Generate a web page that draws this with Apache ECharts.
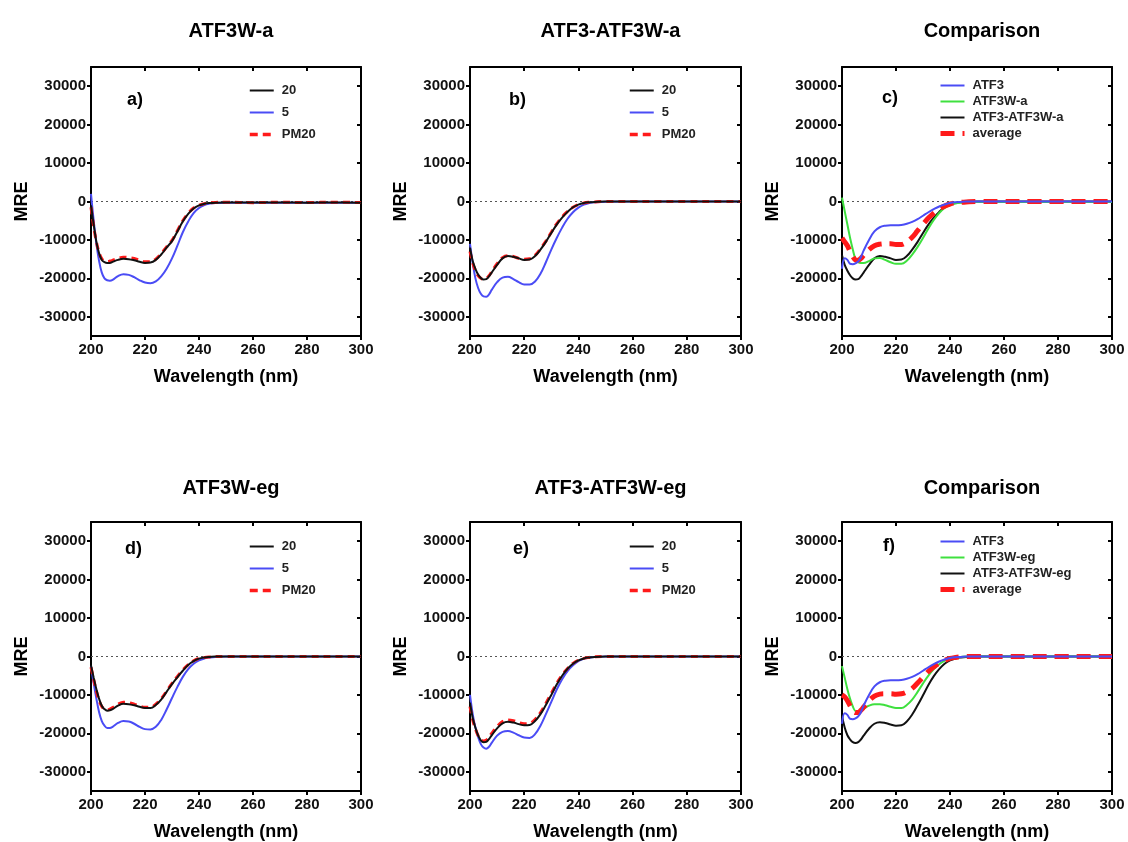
<!DOCTYPE html>
<html>
<head>
<meta charset="utf-8">
<title>CD spectra</title>
<script src="https://cdn.jsdelivr.net/npm/echarts@6/dist/echarts.min.js"></script>
<style>
  html, body { margin: 0; padding: 0; background: #fff; }
  #chart { width: 1128px; height: 842px; }
</style>
</head>
<body>
<div id="chart"></div>
<script>
// wavelength grid (nm) shared by every curve
const wavelength = [200, 201, 202, 203, 204, 205, 206, 207, 208,
  210, 212, 214, 216, 218, 220, 222, 224, 226, 228, 230, 232, 234, 236, 238, 240, 242, 244, 246,
  250, 260, 270, 280, 290, 300];

const xTicks = [200, 220, 240, 260, 280, 300];
const yTicks = [-30000, -20000, -10000, 0, 10000, 20000, 30000];

// a) ATF3W-a
const a20 = [-1000, -6000, -10500, -13500, -15200, -15800, -16000, -16000, -15700,
  -15200, -14900, -15000, -15300, -15700, -16000, -15900, -15200, -13800, -12000, -10300, -7800, -5200, -3200, -1800, -1000, -600, -400, -300,
  -250, -250, -250, -300, -250, -300];
const a5 = [2000, -5000, -11000, -15500, -18500, -20000, -20500, -20600, -20400,
  -19400, -18900, -19100, -19700, -20500, -21100, -21300, -20800, -19500, -17500, -14800, -11500, -8000, -5200, -3000, -1700, -900, -550, -400,
  -300, -300, -300, -350, -300, -350];
const aPM20 = [-1500, -6500, -10500, -13300, -14900, -15500, -15600, -15500, -15300,
  -14800, -14500, -14600, -14800, -15300, -15700, -15700, -15000, -13600, -11800, -10100, -7600, -5000, -3100, -1700, -950, -550, -350, -250,
  -200, -300, -200, -250, -200, -250];

// b) ATF3-ATF3W-a
const b20 = [-12000, -15500, -17500, -19000, -19900, -20300, -20200, -19500, -18500,
  -16500, -14800, -14200, -14400, -14800, -15200, -15100, -14200, -12500, -10500, -8200, -6000, -4200, -2700, -1500, -800, -400, -200, -100,
  0, 0, 0, 0, 0, 0];
const b5 = [-11000, -16000, -20000, -22500, -24000, -24700, -24800, -24200, -23000,
  -21000, -19800, -19600, -20200, -21000, -21600, -21600, -20800, -18800, -15800, -12500, -9500, -6800, -4500, -2800, -1600, -800, -400, -200,
  -50, 0, 0, 0, 0, 0];
const bPM20 = [-13000, -16000, -18000, -19300, -20000, -20200, -20000, -19300, -18300,
  -16200, -14600, -14100, -14300, -14800, -15000, -14900, -14000, -12300, -10300, -8000, -5800, -4000, -2600, -1500, -800, -400, -200, -100,
  0, 0, 0, 0, 0, 0];

// c) comparison, -a variant
const atf3 = [-17500, -14800, -15200, -16200, -16300, -16100, -15600, -14500, -12800,
  -10000, -7800, -6700, -6300, -6200, -6200, -6100, -5800, -5300, -4600, -3700, -2800, -2000, -1300, -800, -400, -200, -100, 0,
  0, 0, 0, 0, 0, 0];
const cAtf3wA = [1000, -2500, -6000, -9500, -12500, -15000, -15800, -16000, -16000,
  -15500, -14800, -14700, -15200, -15800, -16200, -16200, -15400, -13800, -11800, -9500, -7000, -4800, -3000, -1700, -900, -500, -300, -200,
  -150, -150, -150, -150, -150, -150];
const cPairA = [-14000, -16500, -18000, -19200, -20000, -20300, -20200, -19500, -18500,
  -16500, -14800, -14200, -14400, -14800, -15200, -15100, -14200, -12500, -10500, -8200, -6000, -4200, -2700, -1500, -800, -400, -200, -100,
  0, 0, 0, 0, 0, 0];
const cAverage = [-9500, -10500, -11500, -13000, -14300, -15200, -15300, -14800, -14000,
  -12500, -11500, -11100, -11000, -11000, -11200, -11200, -10500, -9300, -7600, -5900, -4300, -3000, -1900, -1200, -650, -350, -200, -100,
  0, 0, 0, 0, 0, 0];

// d) ATF3W-eg
const d20 = [-2300, -5500, -8500, -11000, -12800, -13700, -14100, -14000, -13700,
  -12800, -12300, -12400, -12700, -13100, -13400, -13400, -12600, -11200, -9200, -7200, -5400, -3700, -2200, -1200, -550, -250, -100, 0,
  0, 0, 0, 0, 0, 0];
const d5 = [-2500, -7000, -11000, -14500, -16800, -18000, -18600, -18600, -18300,
  -17300, -16800, -16900, -17500, -18300, -18900, -19000, -18300, -16500, -13800, -10800, -7900, -5300, -3300, -1900, -1000, -500, -250, -100,
  0, 0, 0, 0, 0, 0];
const dPM20 = [-2800, -6000, -9000, -11500, -13000, -13700, -13900, -13700, -13300,
  -12400, -11900, -12000, -12400, -12900, -13200, -13200, -12400, -11000, -9000, -7000, -5200, -3500, -2100, -1100, -500, -250, -100, 0,
  0, 0, 0, 0, 0, 0];

// e) ATF3-ATF3W-eg
const e20 = [-12000, -16000, -18500, -20500, -21800, -22300, -22200, -21500, -20500,
  -18700, -17400, -17000, -17200, -17600, -17900, -17800, -16800, -15000, -12600, -10000, -7300, -5000, -3200, -1900, -1000, -500, -250, -100,
  0, 0, 0, 0, 0, 0];
const e5 = [-10000, -15000, -18500, -21000, -22800, -23700, -24000, -23500, -22500,
  -20600, -19600, -19400, -19800, -20500, -21100, -21200, -20200, -18000, -15000, -11800, -8600, -5900, -3800, -2300, -1200, -600, -300, -150,
  0, 0, 0, 0, 0, 0];
const ePM20 = [-13000, -16500, -18800, -20600, -21600, -22000, -21800, -21000, -20000,
  -18200, -16900, -16500, -16700, -17200, -17500, -17400, -16400, -14600, -12200, -9600, -7000, -4800, -3100, -1800, -950, -480, -240, -100,
  0, 0, 0, 0, 0, 0];

// f) comparison, -eg variant
const fAtf3wEg = [-2500, -5500, -8500, -11000, -13000, -14200, -14300, -14000, -13600,
  -12800, -12400, -12400, -12700, -13100, -13400, -13400, -12600, -11200, -9200, -7000, -5000, -3300, -2000, -1100, -500, -250, -100, 0,
  0, 0, 0, 0, 0, 0];
const fPairEg = [-15500, -18500, -20500, -21600, -22300, -22500, -22300, -21600, -20600,
  -18800, -17500, -17100, -17300, -17700, -18000, -17900, -16900, -15100, -12700, -10100, -7400, -5100, -3300, -1900, -1000, -500, -250, -100,
  0, 0, 0, 0, 0, 0];
const fAverage = [-10000, -10500, -11500, -12800, -14000, -14600, -14600, -14000, -13200,
  -11500, -10300, -9800, -9700, -9700, -9800, -9700, -9200, -8300, -6900, -5400, -3900, -2700, -1700, -1000, -500, -250, -100, 0,
  0, 0, 0, 0, 0, 0];

const FONT = "'Liberation Sans', Arial, sans-serif";
const BLACK = "#111111";
const BLUE = "#4a4cf5";
const GREEN = "#3fe03f";
const RED = "#ff1a1a";

const panels = [
  { title: "ATF3W-a", tag: "a)", grid: { left: 91, top: 67, width: 270, height: 269 }, tagPos: [122, 86], legend: { left: 243, top: 79, gap: 9 } },
  { title: "ATF3-ATF3W-a", tag: "b)", grid: { left: 470, top: 67, width: 271, height: 269 }, tagPos: [504, 86], legend: { left: 623, top: 79, gap: 9 } },
  { title: "Comparison", tag: "c)", grid: { left: 842, top: 67, width: 270, height: 269 }, tagPos: [877, 84], legend: { left: 933, top: 74, gap: 3 } },
  { title: "ATF3W-eg", tag: "d)", grid: { left: 91, top: 522, width: 270, height: 270 }, tagPos: [120, 535], legend: { left: 243, top: 535, gap: 9 } },
  { title: "ATF3-ATF3W-eg", tag: "e)", grid: { left: 470, top: 522, width: 271, height: 270 }, tagPos: [508, 535], legend: { left: 623, top: 535, gap: 9 } },
  { title: "Comparison", tag: "f)", grid: { left: 842, top: 522, width: 270, height: 270 }, tagPos: [878, 532], legend: { left: 933, top: 530, gap: 3 } }
];

// curves drawn in each panel, in draw order; legendOrder gives the key order
const panelSeries = [
  { lines: [["5", a5, "blue"], ["PM20", aPM20, "dash"], ["20", a20, "black"]], legendOrder: ["20", "5", "PM20"] },
  { lines: [["5", b5, "blue"], ["PM20", bPM20, "dash"], ["20", b20, "black"]], legendOrder: ["20", "5", "PM20"] },
  { lines: [["ATF3-ATF3W-a", cPairA, "black"], ["ATF3W-a", cAtf3wA, "green"], ["average", cAverage, "avg"], ["ATF3", atf3, "blue"]],
    legendOrder: ["ATF3", "ATF3W-a", "ATF3-ATF3W-a", "average"] },
  { lines: [["5", d5, "blue"], ["PM20", dPM20, "dash"], ["20", d20, "black"]], legendOrder: ["20", "5", "PM20"] },
  { lines: [["5", e5, "blue"], ["PM20", ePM20, "dash"], ["20", e20, "black"]], legendOrder: ["20", "5", "PM20"] },
  { lines: [["ATF3-ATF3W-eg", fPairEg, "black"], ["ATF3W-eg", fAtf3wEg, "green"], ["average", fAverage, "avg"], ["ATF3", atf3, "blue"]],
    legendOrder: ["ATF3", "ATF3W-eg", "ATF3-ATF3W-eg", "average"] }
];

function lineStyleFor(kind) {
  if (kind === "black") return { color: BLACK, width: 2 };
  if (kind === "blue") return { color: BLUE, width: 2 };
  if (kind === "green") return { color: GREEN, width: 2 };
  if (kind === "dash") return { color: RED, width: 3, type: [7, 5] };
  return { color: RED, width: 5, type: [14, 8] };
}

// legend keys copy the look of their curve
function legendStyleFor(kind) {
  if (kind === "dash") return { color: RED, width: 3.5, type: [8, 5] };
  if (kind === "avg") return { color: RED, width: 5, type: [14, 8] };
  return lineStyleFor(kind);
}

function toPoints(values) {
  return wavelength.map((w, i) => [w, values[i]]);
}

function buildOption() {
  const option = {
    backgroundColor: "#ffffff",
    animation: false,
    textStyle: { fontFamily: FONT },
    title: [],
    grid: [],
    xAxis: [],
    yAxis: [],
    legend: [],
    series: []
  };

  panels.forEach((panel, idx) => {
    const g = panel.grid;
    const isTop = idx < 3;
    option.grid.push({ left: g.left, top: g.top, width: g.width, height: g.height, containLabel: false });

    option.title.push({
      text: panel.title,
      left: g.left + g.width / 2,
      top: isTop ? 16 : 473,
      textAlign: "center",
      textStyle: { fontFamily: FONT, fontSize: 20, fontWeight: "bold", color: "#000" }
    });
    option.title.push({
      text: panel.tag,
      left: panel.tagPos[0],
      top: panel.tagPos[1],
      textStyle: { fontFamily: FONT, fontSize: 18, fontWeight: "bold", color: "#000" }
    });

    const xBase = { gridIndex: idx, type: "value", min: 200, max: 300, interval: 20, splitLine: { show: false } };
    option.xAxis.push(Object.assign({}, xBase, {
      position: "bottom",
      name: "Wavelength (nm)",
      nameLocation: "middle",
      nameGap: 32,
      nameTextStyle: { fontFamily: FONT, fontSize: 18, fontWeight: "bold", color: "#000" },
      axisLine: { onZero: false, lineStyle: { color: "#000", width: 2 } },
      axisTick: { inside: false, length: 4, lineStyle: { color: "#000", width: 2 } },
      axisLabel: { margin: 6, fontFamily: FONT, fontSize: 15, fontWeight: "bold", color: "#111" }
    }));
    option.xAxis.push(Object.assign({}, xBase, {
      position: "top",
      axisLine: { onZero: false, lineStyle: { color: "#000", width: 2 } },
      axisTick: { inside: true, length: 4, lineStyle: { color: "#000", width: 2 } },
      axisLabel: { show: false }
    }));

    const yBase = { gridIndex: idx, type: "value", min: -35000, max: 35000, splitLine: { show: false } };
    option.yAxis.push(Object.assign({}, yBase, {
      position: "left",
      name: "MRE",
      nameLocation: "middle",
      nameRotate: 90,
      nameGap: 60,
      nameTextStyle: { fontFamily: FONT, fontSize: 18, fontWeight: "bold", color: "#000" },
      axisLine: { onZero: false, lineStyle: { color: "#000", width: 2 } },
      axisTick: { inside: false, length: 4, customValues: yTicks, lineStyle: { color: "#000", width: 2 } },
      axisLabel: {
        margin: 5,
        customValues: yTicks,
        formatter: (v) => String(v),
        fontFamily: FONT, fontSize: 15, fontWeight: "bold", color: "#111"
      }
    }));
    option.yAxis.push(Object.assign({}, yBase, {
      position: "right",
      axisLine: { onZero: false, lineStyle: { color: "#000", width: 2 } },
      axisTick: { inside: true, length: 4, customValues: yTicks, lineStyle: { color: "#000", width: 2 } },
      axisLabel: { show: false }
    }));

    const spec = panelSeries[idx];
    spec.lines.forEach((line, li) => {
      const s = {
        name: line[0],
        type: "line",
        xAxisIndex: idx * 2,
        yAxisIndex: idx * 2,
        data: toPoints(line[1]),
        smooth: 0.4,
        symbol: "none",
        lineStyle: lineStyleFor(line[2]),
        itemStyle: { color: lineStyleFor(line[2]).color },
        z: 3 + li
      };
      if (li === 0) {
        s.markLine = {
          silent: true,
          symbol: ["none", "none"],
          label: { show: false },
          z: 1,
          lineStyle: { type: [2, 3], color: "#555", width: 1.2 },
          data: [{ yAxis: 0 }]
        };
      }
      option.series.push(s);
    });

    option.legend.push({
      orient: "vertical",
      left: panel.legend.left,
      top: panel.legend.top,
      itemWidth: 24,
      itemHeight: 14,
      itemGap: panel.legend.gap,
      selectedMode: false,
      itemStyle: { opacity: 0 },
      data: spec.legendOrder.map((name) => {
        const kind = spec.lines.find((l) => l[0] === name)[2];
        return { name: name, lineStyle: legendStyleFor(kind) };
      }),
      textStyle: { fontFamily: FONT, fontSize: 13, fontWeight: "bold", color: "#222", padding: [0, 0, 0, 3] }
    });
  });

  return option;
}

const chart = echarts.init(document.getElementById("chart"));
chart.setOption(buildOption());
</script>
</body>
</html>
